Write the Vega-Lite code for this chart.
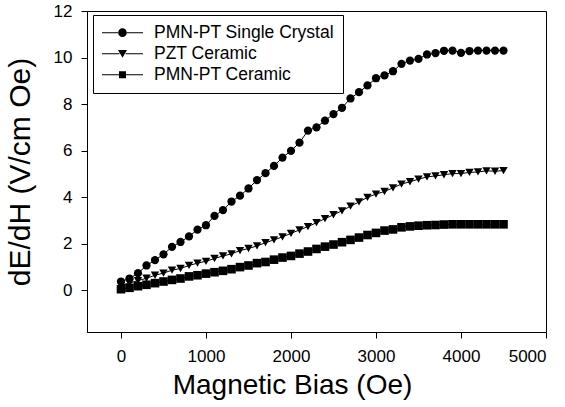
{
  "$schema": "https://vega.github.io/schema/vega-lite/v6.json",
  "width": 459,
  "height": 321,
  "autosize": "none",
  "padding": {"left": 87, "top": 11, "right": 19, "bottom": 75},
  "background": "white",
  "config": {
    "font": "Liberation Sans",
    "view": {"stroke": "black", "strokeWidth": 1},
    "axis": {
      "domainColor": "black",
      "tickColor": "black",
      "labelColor": "black",
      "titleColor": "black",
      "grid": false,
      "tickSize": 6,
      "labelFontSize": 17,
      "titleFontWeight": "normal",
      "labelFont": "Liberation Sans",
      "titleFont": "Liberation Sans"
    }
  },
  "data": {
    "values": [
      {"x": 0, "y": 0.37, "s": "PMN-PT Single Crystal"},
      {"x": 100, "y": 0.5, "s": "PMN-PT Single Crystal"},
      {"x": 200, "y": 0.73, "s": "PMN-PT Single Crystal"},
      {"x": 300, "y": 1.06, "s": "PMN-PT Single Crystal"},
      {"x": 400, "y": 1.29, "s": "PMN-PT Single Crystal"},
      {"x": 500, "y": 1.54, "s": "PMN-PT Single Crystal"},
      {"x": 600, "y": 1.86, "s": "PMN-PT Single Crystal"},
      {"x": 700, "y": 2.07, "s": "PMN-PT Single Crystal"},
      {"x": 800, "y": 2.31, "s": "PMN-PT Single Crystal"},
      {"x": 900, "y": 2.6, "s": "PMN-PT Single Crystal"},
      {"x": 1000, "y": 2.79, "s": "PMN-PT Single Crystal"},
      {"x": 1100, "y": 3.19, "s": "PMN-PT Single Crystal"},
      {"x": 1200, "y": 3.44, "s": "PMN-PT Single Crystal"},
      {"x": 1300, "y": 3.81, "s": "PMN-PT Single Crystal"},
      {"x": 1400, "y": 4.06, "s": "PMN-PT Single Crystal"},
      {"x": 1500, "y": 4.37, "s": "PMN-PT Single Crystal"},
      {"x": 1600, "y": 4.73, "s": "PMN-PT Single Crystal"},
      {"x": 1700, "y": 5.03, "s": "PMN-PT Single Crystal"},
      {"x": 1800, "y": 5.34, "s": "PMN-PT Single Crystal"},
      {"x": 1900, "y": 5.7, "s": "PMN-PT Single Crystal"},
      {"x": 2000, "y": 5.99, "s": "PMN-PT Single Crystal"},
      {"x": 2100, "y": 6.34, "s": "PMN-PT Single Crystal"},
      {"x": 2200, "y": 6.86, "s": "PMN-PT Single Crystal"},
      {"x": 2300, "y": 7.0, "s": "PMN-PT Single Crystal"},
      {"x": 2400, "y": 7.29, "s": "PMN-PT Single Crystal"},
      {"x": 2500, "y": 7.57, "s": "PMN-PT Single Crystal"},
      {"x": 2600, "y": 7.84, "s": "PMN-PT Single Crystal"},
      {"x": 2700, "y": 8.24, "s": "PMN-PT Single Crystal"},
      {"x": 2800, "y": 8.51, "s": "PMN-PT Single Crystal"},
      {"x": 2900, "y": 8.8, "s": "PMN-PT Single Crystal"},
      {"x": 3000, "y": 9.11, "s": "PMN-PT Single Crystal"},
      {"x": 3100, "y": 9.23, "s": "PMN-PT Single Crystal"},
      {"x": 3200, "y": 9.41, "s": "PMN-PT Single Crystal"},
      {"x": 3300, "y": 9.73, "s": "PMN-PT Single Crystal"},
      {"x": 3400, "y": 9.87, "s": "PMN-PT Single Crystal"},
      {"x": 3500, "y": 9.94, "s": "PMN-PT Single Crystal"},
      {"x": 3600, "y": 10.13, "s": "PMN-PT Single Crystal"},
      {"x": 3700, "y": 10.19, "s": "PMN-PT Single Crystal"},
      {"x": 3800, "y": 10.29, "s": "PMN-PT Single Crystal"},
      {"x": 3900, "y": 10.3, "s": "PMN-PT Single Crystal"},
      {"x": 4000, "y": 10.2, "s": "PMN-PT Single Crystal"},
      {"x": 4100, "y": 10.28, "s": "PMN-PT Single Crystal"},
      {"x": 4200, "y": 10.3, "s": "PMN-PT Single Crystal"},
      {"x": 4300, "y": 10.3, "s": "PMN-PT Single Crystal"},
      {"x": 4400, "y": 10.3, "s": "PMN-PT Single Crystal"},
      {"x": 4500, "y": 10.3, "s": "PMN-PT Single Crystal"},
      {"x": 0, "y": 0.2, "s": "PZT Ceramic"},
      {"x": 100, "y": 0.3, "s": "PZT Ceramic"},
      {"x": 200, "y": 0.41, "s": "PZT Ceramic"},
      {"x": 300, "y": 0.51, "s": "PZT Ceramic"},
      {"x": 400, "y": 0.64, "s": "PZT Ceramic"},
      {"x": 500, "y": 0.73, "s": "PZT Ceramic"},
      {"x": 600, "y": 0.86, "s": "PZT Ceramic"},
      {"x": 700, "y": 0.93, "s": "PZT Ceramic"},
      {"x": 800, "y": 1.06, "s": "PZT Ceramic"},
      {"x": 900, "y": 1.16, "s": "PZT Ceramic"},
      {"x": 1000, "y": 1.24, "s": "PZT Ceramic"},
      {"x": 1100, "y": 1.36, "s": "PZT Ceramic"},
      {"x": 1200, "y": 1.47, "s": "PZT Ceramic"},
      {"x": 1300, "y": 1.56, "s": "PZT Ceramic"},
      {"x": 1400, "y": 1.7, "s": "PZT Ceramic"},
      {"x": 1500, "y": 1.79, "s": "PZT Ceramic"},
      {"x": 1600, "y": 1.9, "s": "PZT Ceramic"},
      {"x": 1700, "y": 2.04, "s": "PZT Ceramic"},
      {"x": 1800, "y": 2.16, "s": "PZT Ceramic"},
      {"x": 1900, "y": 2.29, "s": "PZT Ceramic"},
      {"x": 2000, "y": 2.44, "s": "PZT Ceramic"},
      {"x": 2100, "y": 2.59, "s": "PZT Ceramic"},
      {"x": 2200, "y": 2.73, "s": "PZT Ceramic"},
      {"x": 2300, "y": 2.9, "s": "PZT Ceramic"},
      {"x": 2400, "y": 3.07, "s": "PZT Ceramic"},
      {"x": 2500, "y": 3.24, "s": "PZT Ceramic"},
      {"x": 2600, "y": 3.41, "s": "PZT Ceramic"},
      {"x": 2700, "y": 3.61, "s": "PZT Ceramic"},
      {"x": 2800, "y": 3.79, "s": "PZT Ceramic"},
      {"x": 2900, "y": 3.99, "s": "PZT Ceramic"},
      {"x": 3000, "y": 4.13, "s": "PZT Ceramic"},
      {"x": 3100, "y": 4.24, "s": "PZT Ceramic"},
      {"x": 3200, "y": 4.4, "s": "PZT Ceramic"},
      {"x": 3300, "y": 4.56, "s": "PZT Ceramic"},
      {"x": 3400, "y": 4.66, "s": "PZT Ceramic"},
      {"x": 3500, "y": 4.77, "s": "PZT Ceramic"},
      {"x": 3600, "y": 4.87, "s": "PZT Ceramic"},
      {"x": 3700, "y": 4.91, "s": "PZT Ceramic"},
      {"x": 3800, "y": 4.96, "s": "PZT Ceramic"},
      {"x": 3900, "y": 5.01, "s": "PZT Ceramic"},
      {"x": 4000, "y": 5.01, "s": "PZT Ceramic"},
      {"x": 4100, "y": 5.06, "s": "PZT Ceramic"},
      {"x": 4200, "y": 5.08, "s": "PZT Ceramic"},
      {"x": 4300, "y": 5.13, "s": "PZT Ceramic"},
      {"x": 4400, "y": 5.11, "s": "PZT Ceramic"},
      {"x": 4500, "y": 5.14, "s": "PZT Ceramic"},
      {"x": 0, "y": 0.04, "s": "PMN-PT Ceramic"},
      {"x": 100, "y": 0.1, "s": "PMN-PT Ceramic"},
      {"x": 200, "y": 0.17, "s": "PMN-PT Ceramic"},
      {"x": 300, "y": 0.23, "s": "PMN-PT Ceramic"},
      {"x": 400, "y": 0.3, "s": "PMN-PT Ceramic"},
      {"x": 500, "y": 0.37, "s": "PMN-PT Ceramic"},
      {"x": 600, "y": 0.44, "s": "PMN-PT Ceramic"},
      {"x": 700, "y": 0.5, "s": "PMN-PT Ceramic"},
      {"x": 800, "y": 0.59, "s": "PMN-PT Ceramic"},
      {"x": 900, "y": 0.64, "s": "PMN-PT Ceramic"},
      {"x": 1000, "y": 0.71, "s": "PMN-PT Ceramic"},
      {"x": 1100, "y": 0.77, "s": "PMN-PT Ceramic"},
      {"x": 1200, "y": 0.83, "s": "PMN-PT Ceramic"},
      {"x": 1300, "y": 0.9, "s": "PMN-PT Ceramic"},
      {"x": 1400, "y": 0.99, "s": "PMN-PT Ceramic"},
      {"x": 1500, "y": 1.06, "s": "PMN-PT Ceramic"},
      {"x": 1600, "y": 1.16, "s": "PMN-PT Ceramic"},
      {"x": 1700, "y": 1.21, "s": "PMN-PT Ceramic"},
      {"x": 1800, "y": 1.31, "s": "PMN-PT Ceramic"},
      {"x": 1900, "y": 1.4, "s": "PMN-PT Ceramic"},
      {"x": 2000, "y": 1.47, "s": "PMN-PT Ceramic"},
      {"x": 2100, "y": 1.57, "s": "PMN-PT Ceramic"},
      {"x": 2200, "y": 1.66, "s": "PMN-PT Ceramic"},
      {"x": 2300, "y": 1.77, "s": "PMN-PT Ceramic"},
      {"x": 2400, "y": 1.87, "s": "PMN-PT Ceramic"},
      {"x": 2500, "y": 1.96, "s": "PMN-PT Ceramic"},
      {"x": 2600, "y": 2.06, "s": "PMN-PT Ceramic"},
      {"x": 2700, "y": 2.16, "s": "PMN-PT Ceramic"},
      {"x": 2800, "y": 2.26, "s": "PMN-PT Ceramic"},
      {"x": 2900, "y": 2.37, "s": "PMN-PT Ceramic"},
      {"x": 3000, "y": 2.46, "s": "PMN-PT Ceramic"},
      {"x": 3100, "y": 2.56, "s": "PMN-PT Ceramic"},
      {"x": 3200, "y": 2.61, "s": "PMN-PT Ceramic"},
      {"x": 3300, "y": 2.7, "s": "PMN-PT Ceramic"},
      {"x": 3400, "y": 2.74, "s": "PMN-PT Ceramic"},
      {"x": 3500, "y": 2.77, "s": "PMN-PT Ceramic"},
      {"x": 3600, "y": 2.79, "s": "PMN-PT Ceramic"},
      {"x": 3700, "y": 2.8, "s": "PMN-PT Ceramic"},
      {"x": 3800, "y": 2.82, "s": "PMN-PT Ceramic"},
      {"x": 3900, "y": 2.83, "s": "PMN-PT Ceramic"},
      {"x": 4000, "y": 2.83, "s": "PMN-PT Ceramic"},
      {"x": 4100, "y": 2.83, "s": "PMN-PT Ceramic"},
      {"x": 4200, "y": 2.83, "s": "PMN-PT Ceramic"},
      {"x": 4300, "y": 2.83, "s": "PMN-PT Ceramic"},
      {"x": 4400, "y": 2.83, "s": "PMN-PT Ceramic"},
      {"x": 4500, "y": 2.83, "s": "PMN-PT Ceramic"}
    ]
  },
  "encoding": {
    "x": {
      "field": "x",
      "type": "quantitative",
      "scale": {"domain": [-400, 5000], "nice": false, "zero": false},
      "axis": {
        "title": "Magnetic Bias (Oe)",
        "titleFontSize": 28,
        "titleX": 205,
        "values": [0, 1000, 2000, 3000, 4000, 5000],
        "format": "d",
        "labelPadding": 10,
        "titlePadding": 7
      }
    },
    "y": {
      "field": "y",
      "type": "quantitative",
      "scale": {"domain": [-1.8, 12], "nice": false, "zero": false},
      "axis": {
        "title": "dE/dH (V/cm Oe)",
        "titleFontSize": 30,
        "values": [0, 2, 4, 6, 8, 10, 12],
        "labelPadding": 9,
        "titlePadding": 18
      }
    }
  },
  "layer": [
    {
      "mark": {"type": "line", "color": "black", "strokeWidth": 1},
      "encoding": {"detail": {"field": "s"}}
    },
    {
      "mark": {"type": "point", "filled": true, "color": "black", "opacity": 1},
      "encoding": {
        "shape": {
          "field": "s",
          "scale": {
            "domain": ["PMN-PT Single Crystal", "PZT Ceramic", "PMN-PT Ceramic"],
            "range": ["circle", "triangle-down", "square"]
          },
          "legend": null
        },
        "size": {
          "field": "s",
          "type": "nominal",
          "scale": {
            "domain": ["PMN-PT Single Crystal", "PZT Ceramic", "PMN-PT Ceramic"],
            "range": [68, 74, 54]
          },
          "legend": null
        }
      }
    },
    {
      "transform": [{"filter": "datum.x < -1000"}],
      "mark": {"type": "point", "filled": true, "color": "black"},
      "encoding": {
        "shape": {
          "field": "s",
          "scale": {
            "domain": ["PMN-PT Single Crystal", "PZT Ceramic", "PMN-PT Ceramic"],
            "range": [
              "M-1,-0.025H-0.2V0.025H-1ZM0.2,-0.025H1V0.025H0.2ZM-0.21,0A0.21,0.21,0,1,0,0.21,0A0.21,0.21,0,1,0,-0.21,0Z",
              "M-1,-0.025H-0.15V0.025H-1ZM0.15,-0.025H1V0.025H0.15ZM-0.22,-0.18L0.22,-0.18L0,0.2Z",
              "M-1,-0.025H-0.17V0.025H-1ZM0.17,-0.025H1V0.025H0.17ZM-0.17,-0.17H0.17V0.17H-0.17Z"
            ]
          },
          "legend": {
            "title": null,
            "orient": "none",
            "legendX": 6,
            "legendY": 4,
            "padding": 9,
            "strokeColor": "black",
            "fillColor": "white",
            "cornerRadius": 0,
            "labelFontSize": 17.5,
            "labelColor": "black",
            "labelLimit": 400,
            "labelOffset": 11,
            "rowPadding": 2,
            "clipHeight": 17.3,
            "symbolSize": 1681,
            "symbolStrokeWidth": 0,
            "symbolFillColor": "black",
            "symbolOpacity": 1,
            "encode": {
              "symbols": {"update": {"fill": {"value": "black"}, "opacity": {"value": 1}}}
            }
          }
        }
      }
    }
  ],
  "resolve": {"scale": {"shape": "independent"}}
}
